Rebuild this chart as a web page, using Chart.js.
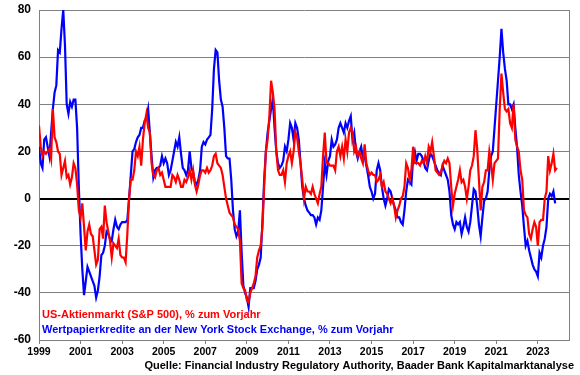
<!DOCTYPE html>
<html><head><meta charset="utf-8">
<script src="https://cdn.jsdelivr.net/npm/chart.js@4/dist/chart.umd.min.js"></script>
<style>html,body{margin:0;padding:0;background:#fff}#wrap{width:580px;height:375px;position:relative}</style>
</head><body><div id="wrap"><canvas id="c" width="580" height="375"></canvas></div>
<script>
const startYear = 1999;
const xTickYears = [1999,2001,2003,2005,2007,2009,2011,2013,2015,2017,2019,2021,2023];
const yMin = -60, yMax = 80, yStep = 20;
const seriesNames = [
  'US-Aktienmarkt (S&P 500), % zum Vorjahr',
  'Wertpapierkredite an der New York Stock Exchange, % zum Vorjahr'
];
const sourceText = 'Quelle: Financial Industry Regulatory Authority, Baader Bank Kapitalmarktanalyse';

// monthly values, Jan 1999 onwards
const redValues = [
  31,22,18,20,19,20,21,17,38,26,24,20,
  19,10,13,16,9,10,6,9,15,13,6,-5,
  -8,-2,-12,-22,-14,-11,-15,-16,-22,-28,-26,-13,
  -12,-17,-3,-10,-14,-18,-25,-19,-20,-21,-17,-24,
  -25,-25,-27,-15,0,8,8,12,20,18,22,14,
  25,32,36,30,28,15,10,9,12,13,10,11,
  8,5,5,5,5,10,9,7,10,8,5,5,
  8,7,9,12,8,12,6,3,6,10,12,12,
  11,13,11,12,14,18,19,15,14,13,10,5,
  0,-3,-6,-7,-8,-11,-12,-13,-18,-36,-38,-39,
  -43,-44,-40,-38,-36,-33,-25,-22,-20,-12,5,20,
  25,35,50,45,38,20,12,10,10,12,7,15,
  18,20,15,20,28,26,20,15,8,0,5,3,
  3,2,5,2,0,-2,2,5,18,28,15,15,
  14,14,14,12,20,22,18,22,17,25,20,28,
  30,28,20,22,18,20,17,15,23,15,12,10,
  11,10,10,7,8,10,5,7,3,2,0,-2,
  0,-3,-8,-5,-3,0,1,5,15,13,8,12,
  22,15,15,15,14,16,15,18,15,22,20,24,
  18,12,11,10,11,14,16,15,17,15,5,-3,
  2,5,8,12,7,8,5,0,5,12,14,18,
  29,21,8,-5,5,7,12,12,20,15,8,15,
  16,17,38,53,45,38,37,38,32,30,40,25,
  22,20,12,8,-5,-7,-8,-15,-17,-13,-10,-12,
  -20,-10,-9,-9,0,3,18,12,15,19,12,13
];
const blueValues = [
  22,15,13,25,26,22,18,28,38,45,48,63,
  62,72,80,65,40,36,41,39,42,42,30,5,
  -15,-30,-41,-35,-29,-31,-33,-35,-37,-42,-39,-33,
  -24,-23,-20,-14,-15,-17,-18,-13,-9,-12,-13,-11,
  -10,-10,-10,-9,0,10,20,21,24,26,27,30,
  30,33,34,38,28,18,9,12,13,13,14,18,
  15,17,15,10,12,16,20,24,22,26,19,13,
  12,10,12,20,13,11,7,6,8,12,22,24,
  23,25,26,27,38,55,63,62,50,42,39,30,
  18,17,17,8,-5,-13,-16,-14,-5,-23,-37,-40,
  -42,-46,-38,-38,-38,-35,-30,-28,-25,-10,8,20,
  28,33,38,42,30,20,15,13,14,16,22,20,
  25,32,30,25,32,30,25,15,5,0,-3,-5,
  -6,-7,-7,-8,-11,-8,-9,-5,5,15,10,16,
  18,25,22,23,25,30,32,30,28,32,30,33,
  35,25,28,20,17,20,22,17,18,14,10,5,
  3,0,2,12,15,12,5,0,-3,0,4,3,
  0,-3,-5,-8,-8,-10,-11,-5,3,8,7,6,
  17,20,16,19,19,18,16,13,12,16,19,18,
  16,14,12,11,10,14,12,10,8,3,-7,-11,
  -13,-10,-11,-10,-15,-12,-8,-12,-14,-10,-3,4,
  3,-3,-11,-16,-8,-1,0,3,12,18,20,30,
  40,50,60,72,62,55,50,40,40,38,40,30,
  22,10,3,-3,-12,-20,-18,-22,-25,-28,-30,-31,
  -33,-23,-25,-20,-17,-12,0,2,1,3,-2
];

const RED = '#ff0000', BLUE = '#0000ff', GRID = '#808080';
const FONT = "'Liberation Sans', Arial, sans-serif";

function toPoints(vals){ return vals.map((v,i)=>({x: startYear + i/12, y: v})); }

const overlay = {
  id: 'overlay',
  afterDraw(chart){
    const {ctx, chartArea: a} = chart;
    ctx.save();
    ctx.strokeStyle = GRID; ctx.lineWidth = 1;
    ctx.beginPath();
    ctx.moveTo(Math.round(a.right)+0.5, a.top);
    ctx.lineTo(Math.round(a.right)+0.5, a.bottom);
    ctx.stroke();
    ctx.font = 'bold 11px ' + FONT;
    ctx.textBaseline = 'middle';
    ctx.textAlign = 'left';
    ctx.fillStyle = RED;
    ctx.fillText(seriesNames[0], a.left + 3, 315);
    ctx.fillStyle = BLUE;
    ctx.fillText(seriesNames[1], a.left + 3, 330);
    ctx.fillStyle = '#000';
    ctx.textAlign = 'right';
    ctx.fillText(sourceText, 574, 366);
    ctx.restore();
  }
};

new Chart(document.getElementById('c'), {
  type: 'line',
  data: {
    datasets: [
      {label: seriesNames[0], data: toPoints(redValues), borderColor: RED, backgroundColor: RED,
       borderWidth: 2.2, pointRadius: 0, tension: 0, spanGaps: false},
      {label: seriesNames[1], data: toPoints(blueValues), borderColor: BLUE, backgroundColor: BLUE,
       borderWidth: 2.2, pointRadius: 0, tension: 0, spanGaps: false}
    ]
  },
  options: {
    responsive: false,
    animation: false,
    devicePixelRatio: 1,
    layout: {padding: {top: 10, right: 11, left: 0, bottom: 0}},
    plugins: {legend: {display: false}, tooltip: {enabled: false}},
    scales: {
      x: {
        type: 'linear', min: startYear, max: 2024.5,
        afterBuildTicks: axis => { axis.ticks = xTickYears.map(v => ({value: v})); },
        afterFit: s => { s.height = 35; s.paddingLeft = 0; s.paddingRight = 0; },
        ticks: {callback: v => String(v), autoSkip: false, maxRotation: 0, padding: 2,
                color: '#000', font: {family: FONT, size: 10.5, weight: 'bold'}},
        grid: {drawOnChartArea: false, drawTicks: true, tickLength: 4, color: GRID},
        border: {color: GRID, width: 1}
      },
      y: {
        min: yMin, max: yMax,
        afterFit: s => { s.width = 39; s.paddingTop = 0; s.paddingBottom = 0; },
        ticks: {stepSize: yStep, padding: 8, color: '#000',
                font: {family: FONT, size: 12, weight: 'bold'}},
        grid: {drawTicks: false,
               color: c => (c.tick && c.tick.value === 0) ? '#000' : GRID,
               lineWidth: c => (c.tick && c.tick.value === 0) ? 2 : 1},
        border: {color: GRID, width: 1}
      }
    }
  },
  plugins: [overlay]
});
</script>
</body></html>
